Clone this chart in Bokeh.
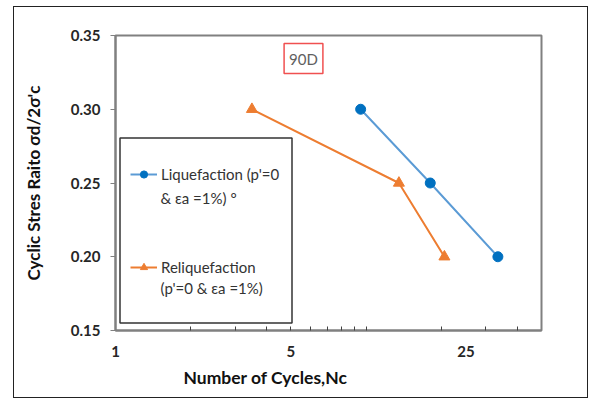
from bokeh.plotting import figure
from bokeh.models import (FixedTicker, Legend, LegendItem, Label, BoxAnnotation,
                          Range1d, NumeralTickFormatter, Title)
from bokeh.embed import file_html
from bokeh.resources import INLINE

# ---- data ----
liq_cycles = [9.5, 18.0, 33.5]
liq_csr = [0.30, 0.25, 0.20]
reliq_cycles = [3.5, 13.5, 20.5]
reliq_csr = [0.30, 0.25, 0.20]
x_ticks = [1, 5, 25]
x_minor_ticks = [2, 3, 4, 5, 6, 7, 8, 9, 10, 20, 30, 40]
y_ticks = [0.15, 0.20, 0.25, 0.30, 0.35]
liq_label = ["Liquefaction (p'=0", "& εa =1%) °"]
reliq_label = ["Reliquefaction", "(p'=0 & εa =1%)"]

FONT = "Lato"

p = figure(width=573, height=390, x_axis_type="log",
           x_range=Range1d(1, 50), y_range=Range1d(0.15, 0.35),
           output_backend="svg", toolbar_location=None,
           min_border_left=101, min_border_right=46,
           min_border_top=28, min_border_bottom=67)
p.margin = (7, 5, 2, 14)
p.styles = {"outline": "1.5px solid #222222"}

p.xgrid.visible = False
p.ygrid.visible = False
p.outline_line_color = "#808080"
p.outline_line_width = 2
p.background_fill_color = "white"
p.border_fill_color = "white"

# x axis
p.xaxis.ticker = FixedTicker(ticks=x_ticks, minor_ticks=x_minor_ticks)
p.xaxis.formatter = NumeralTickFormatter(format="0")
p.xaxis.major_tick_out = 0
p.xaxis.major_tick_in = 0
p.xaxis.minor_tick_in = 4
p.xaxis.minor_tick_out = 0
p.xaxis.minor_tick_line_color = "#404040"
p.xaxis.axis_line_color = "#808080"
p.xaxis.axis_line_width = 2
p.xaxis.major_label_standoff = 15
p.xaxis.major_label_text_font = FONT
p.xaxis.major_label_text_font_style = "bold"
p.xaxis.major_label_text_font_size = "15px"
p.xaxis.major_label_text_color = "#262626"

# y axis
p.yaxis.ticker = FixedTicker(ticks=y_ticks)
p.yaxis.formatter = NumeralTickFormatter(format="0.00")
p.yaxis.major_tick_out = 5
p.yaxis.major_tick_in = 0
p.yaxis.minor_tick_out = 0
p.yaxis.minor_tick_in = 0
p.yaxis.major_tick_line_color = "#808080"
p.yaxis.axis_line_color = "#808080"
p.yaxis.axis_line_width = 2
p.yaxis.major_label_standoff = 10
p.yaxis.major_label_text_font = FONT
p.yaxis.major_label_text_font_style = "bold"
p.yaxis.major_label_text_font_size = "15px"
p.yaxis.major_label_text_color = "#262626"
p.yaxis.axis_label = "Cyclic Stres Raito σd/2σ'c"
p.yaxis.axis_label_text_font = FONT
p.yaxis.axis_label_text_font_style = "bold"
p.yaxis.axis_label_text_font_size = "17px"
p.yaxis.axis_label_text_color = "#111111"
p.yaxis.axis_label_standoff = 24

# x axis title (off-centre, as in the reference)
p.add_layout(Title(text="Number of Cycles,Nc", align="left", offset=68,
                   text_font=FONT, text_font_style="bold",
                   text_font_size="17.5px", text_color="#111111",
                   standoff=10), "below")

# series
l1 = p.line(liq_cycles, liq_csr, line_color="#5B9BD5", line_width=2)
m1 = p.scatter(liq_cycles, liq_csr, marker="circle", size=10,
               fill_color="#0070C0", line_color="#0070C0")
l2 = p.line(reliq_cycles, reliq_csr, line_color="#ED7D31", line_width=2)
m2 = p.scatter(reliq_cycles, reliq_csr, marker="triangle", size=11,
               fill_color="#ED7D31", line_color="#ED7D31")

# legend frame
p.add_layout(BoxAnnotation(left=4.5, right=176.5, bottom=7.5, top=192.5,
                           left_units="screen", right_units="screen",
                           bottom_units="screen", top_units="screen",
                           fill_alpha=0, line_color="#333333", line_width=1.5,
                           line_alpha=1))

legend = Legend(items=[LegendItem(label=liq_label[0], renderers=[l1, m1]),
                       LegendItem(label=reliq_label[0], renderers=[l2, m2])],
                location=(5, 44), padding=10, spacing=75,
                glyph_width=27, glyph_height=18, label_standoff=4,
                label_width=121,
                label_text_font=FONT, label_text_font_size="15px",
                label_text_color="#333333",
                border_line_alpha=0, background_fill_alpha=0)
p.add_layout(legend)

# second lines of the legend labels
for txt, ypos in [(liq_label[1], 133), (reliq_label[1], 43)]:
    p.add_layout(Label(x=45, y=ypos, x_units="screen", y_units="screen",
                       text=txt, text_align="left", text_baseline="middle",
                       text_font=FONT, text_font_size="15px",
                       text_color="#333333"))

# "90D" tag
p.add_layout(Label(x=188, y=272, x_units="screen", y_units="screen",
                   text="90D", text_align="center", text_baseline="middle",
                   text_font=FONT, text_font_size="15px", text_color="#606060",
                   border_line_color="#F05050", border_line_width=1.5,
                   background_fill_color="white", padding=(5, 6)))

open("out.html", "w").write(file_html(p, INLINE))
